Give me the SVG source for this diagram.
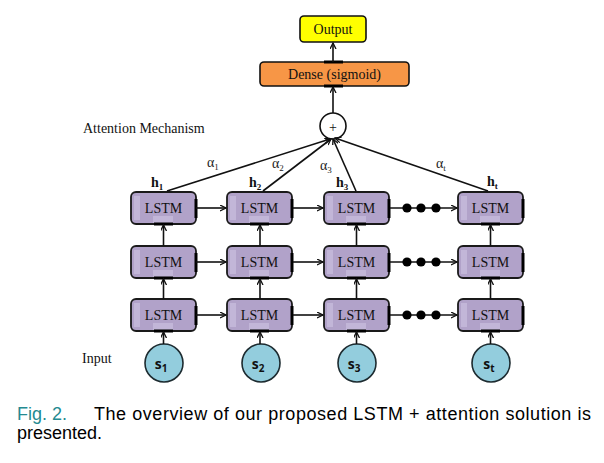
<svg xmlns="http://www.w3.org/2000/svg" width="604" height="463" viewBox="0 0 604 463">
<style>
.box{fill:#b1a2c9;stroke:#1a1a1a;stroke-width:1.8}
.hl{fill:#c2b6d8}
.bar{stroke:#000;stroke-width:3}
.t{font-family:"Liberation Serif",serif;font-size:14px;fill:#111}
.hb{font-family:"Liberation Serif",serif;font-size:14px;font-weight:bold;fill:#111}
.al{font-family:"Liberation Serif",serif;font-size:14px;fill:#222}
.in{fill:#93cddd;stroke:#1d2b30;stroke-width:1.6}
.st{font-family:"Open Sans","Liberation Sans",sans-serif;font-size:14px;font-weight:bold;fill:#111}
.c{stroke:#111;stroke-width:1.6;fill:none}
.cap{font-family:"Liberation Sans",Arial,sans-serif;font-size:18px;fill:#000}
</style>
<defs>
<marker id="ah" markerWidth="8" markerHeight="8" refX="6" refY="3" orient="auto" markerUnits="userSpaceOnUse">
<path d="M0,0 L6,3 L0,6" fill="none" stroke="#111" stroke-width="1.3"/>
</marker>
<g id="lstm">
<rect class="box" x="0" y="0" width="65" height="32" rx="5"/>
<rect class="hl" x="3" y="4" width="6" height="24"/>
<rect class="hl" x="22" y="24" width="20" height="7"/>
<text class="t" x="32.5" y="21" text-anchor="middle">LSTM</text>
<line class="bar" x1="23" y1="32" x2="42" y2="32"/>
<line class="bar" x1="65" y1="7" x2="65" y2="26"/>
</g>
</defs>

<g id="output">
<rect x="300" y="16" width="66" height="26" rx="4" fill="#ffff00" stroke="#111" stroke-width="1.6"/>
<text class="t" x="333" y="34" text-anchor="middle">Output</text>
</g>
<g id="dense">
<rect x="260" y="62" width="149" height="24" rx="4" fill="#f79646" stroke="#111" stroke-width="1.6"/>
<text class="t" x="334.5" y="79" text-anchor="middle">Dense (sigmoid)</text>
<line class="bar" x1="324" y1="62" x2="343" y2="62"/>
<line class="bar" x1="324" y1="86" x2="343" y2="86"/>
</g>
<g id="plus">
<circle cx="333" cy="126" r="13" fill="#fff" stroke="#111" stroke-width="1.6"/>
<text class="t" x="333" y="132" text-anchor="middle" font-size="17">+</text>
</g>

<text class="t" x="83" y="133">Attention Mechanism</text>
<text class="t" x="82" y="363">Input</text>

<g id="lstm-r1c1"><use href="#lstm" x="131" y="192"/></g>
<g id="lstm-r1c2"><use href="#lstm" x="227" y="192"/></g>
<g id="lstm-r1c3"><use href="#lstm" x="324" y="192"/></g>
<g id="lstm-r1c4"><use href="#lstm" x="458" y="192"/></g>
<g id="lstm-r2c1"><use href="#lstm" x="131" y="246"/></g>
<g id="lstm-r2c2"><use href="#lstm" x="227" y="246"/></g>
<g id="lstm-r2c3"><use href="#lstm" x="324" y="246"/></g>
<g id="lstm-r2c4"><use href="#lstm" x="458" y="246"/></g>
<g id="lstm-r3c1"><use href="#lstm" x="131" y="299"/></g>
<g id="lstm-r3c2"><use href="#lstm" x="227" y="299"/></g>
<g id="lstm-r3c3"><use href="#lstm" x="324" y="299"/></g>
<g id="lstm-r3c4"><use href="#lstm" x="458" y="299"/></g>

<g id="inputs">
<g id="s1"><circle class="in" cx="164" cy="363" r="19"/><text class="st" x="161" y="369" text-anchor="middle">s<tspan dy="3" font-size="10">1</tspan></text></g>
<g id="s2"><circle class="in" cx="261" cy="363" r="19"/><text class="st" x="258" y="369" text-anchor="middle">s<tspan dy="3" font-size="10">2</tspan></text></g>
<g id="s3"><circle class="in" cx="357" cy="363" r="19"/><text class="st" x="354" y="369" text-anchor="middle">s<tspan dy="3" font-size="10">3</tspan></text></g>
<g id="st"><circle class="in" cx="491" cy="363" r="19"/><text class="st" x="489" y="369" text-anchor="middle">s<tspan dy="3" font-size="10">t</tspan></text></g>
</g>

<g id="labels">
<text class="hb" x="151" y="187">h<tspan font-size="9" dy="3">1</tspan></text>
<text class="hb" x="249" y="187">h<tspan font-size="9" dy="3">2</tspan></text>
<text class="hb" x="336" y="187">h<tspan font-size="9" dy="3">3</tspan></text>
<text class="hb" x="487" y="186">h<tspan font-size="9" dy="3">t</tspan></text>
<text class="al" x="207" y="167">α<tspan font-size="9" dy="3">1</tspan></text>
<text class="al" x="272" y="168">α<tspan font-size="9" dy="3">2</tspan></text>
<text class="al" x="320" y="170">α<tspan font-size="9" dy="3">3</tspan></text>
<text class="al" x="436" y="168">α<tspan font-size="9" dy="3">t</tspan></text>
</g>

<g id="connectors">
<line class="c" x1="333" y1="62" x2="333" y2="43" marker-end="url(#ah)"/>
<line class="c" x1="333" y1="113" x2="333" y2="87" marker-end="url(#ah)"/>
<line class="c" x1="167" y1="191" x2="330" y2="139" marker-end="url(#ah)"/>
<line class="c" x1="263" y1="191" x2="331" y2="139" marker-end="url(#ah)"/>
<line class="c" x1="356" y1="191" x2="333" y2="139" marker-end="url(#ah)"/>
<line class="c" x1="488" y1="191" x2="335" y2="138" marker-end="url(#ah)"/>

<line class="c" x1="196" y1="208" x2="226" y2="208" marker-end="url(#ah)"/>
<line class="c" x1="293" y1="208" x2="323" y2="208" marker-end="url(#ah)"/>
<line class="c" x1="390" y1="208" x2="457" y2="208" marker-end="url(#ah)"/>
<line class="c" x1="196" y1="262" x2="226" y2="262" marker-end="url(#ah)"/>
<line class="c" x1="293" y1="262" x2="323" y2="262" marker-end="url(#ah)"/>
<line class="c" x1="390" y1="262" x2="457" y2="262" marker-end="url(#ah)"/>
<line class="c" x1="196" y1="315" x2="226" y2="315" marker-end="url(#ah)"/>
<line class="c" x1="293" y1="315" x2="323" y2="315" marker-end="url(#ah)"/>
<line class="c" x1="390" y1="315" x2="457" y2="315" marker-end="url(#ah)"/>
<g fill="#000">
<circle cx="407" cy="208" r="4.6"/><circle cx="421" cy="208" r="4.6"/><circle cx="436" cy="208" r="4.6"/>
<circle cx="407" cy="262" r="4.6"/><circle cx="421" cy="262" r="4.6"/><circle cx="436" cy="262" r="4.6"/>
<circle cx="407" cy="315" r="4.6"/><circle cx="421" cy="315" r="4.6"/><circle cx="436" cy="315" r="4.6"/>
</g>

<line class="c" x1="163.5" y1="246" x2="163.5" y2="225" marker-end="url(#ah)"/>
<line class="c" x1="260" y1="246" x2="260" y2="225" marker-end="url(#ah)"/>
<line class="c" x1="356.5" y1="246" x2="356.5" y2="225" marker-end="url(#ah)"/>
<line class="c" x1="490.5" y1="246" x2="490.5" y2="225" marker-end="url(#ah)"/>
<line class="c" x1="163.5" y1="299" x2="163.5" y2="279" marker-end="url(#ah)"/>
<line class="c" x1="260" y1="299" x2="260" y2="279" marker-end="url(#ah)"/>
<line class="c" x1="356.5" y1="299" x2="356.5" y2="279" marker-end="url(#ah)"/>
<line class="c" x1="490.5" y1="299" x2="490.5" y2="279" marker-end="url(#ah)"/>
<line class="c" x1="163.5" y1="344" x2="163.5" y2="332" marker-end="url(#ah)"/>
<line class="c" x1="260" y1="344" x2="260" y2="332" marker-end="url(#ah)"/>
<line class="c" x1="356.5" y1="344" x2="356.5" y2="332" marker-end="url(#ah)"/>
<line class="c" x1="490.5" y1="344" x2="490.5" y2="332" marker-end="url(#ah)"/>
</g>

<g id="caption">
<text class="cap" x="17" y="420" style="fill:#248a91">Fig. 2.</text>
<text class="cap" x="94" y="420" textLength="497" lengthAdjust="spacing">The overview of our proposed LSTM + attention solution is</text>
<text class="cap" x="17" y="439">presented.</text>
</g>
</svg>
